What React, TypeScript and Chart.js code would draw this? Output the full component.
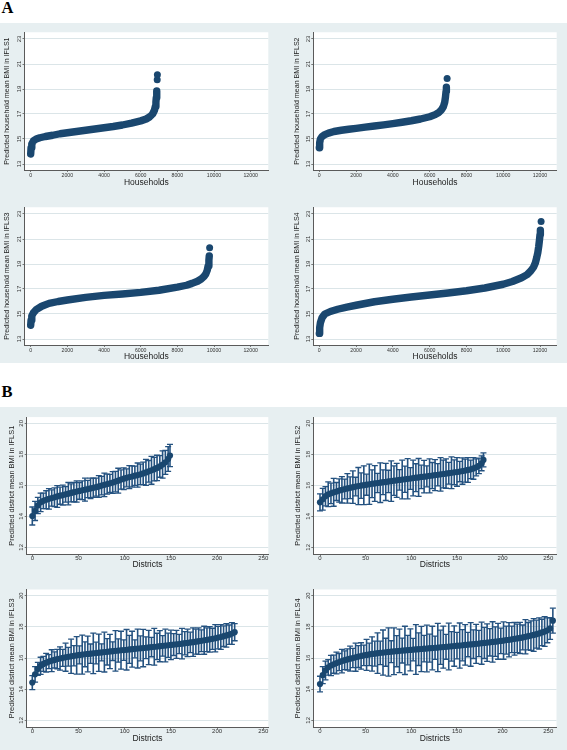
import React, { useEffect, useRef } from "react";
import { Chart, registerables } from "chart.js";

Chart.register(...registerables);

// ---------- colours / fonts ----------
const NAVY = "#1a476f";
const CI_COLOR = "#245280";
const PANEL_BG = "#e7eff1";
const GRID = "#dbe5e8";
const AXIS = "#5a5a5a";
const TEXT = "#222222";
const FONT = "'Liberation Sans', Arial, Helvetica, sans-serif";

// ---------- tick values ----------
const householdTicks = [0, 2000, 4000, 6000, 8000, 10000, 12000];
const householdBmiTicks = [13, 15, 17, 19, 21, 23];
const districtTicks = [0, 50, 100, 150, 200, 250];
const districtBmiTicks = [12, 14, 16, 18, 20];

// ---------- Panel A: households (rank, predicted BMI) ----------
const ifls1HouseholdRank = [0, 20, 60, 150, 300, 500, 800, 1200, 1600, 2000, 2500, 3000, 3500, 4000, 4500, 5000, 5500, 6000, 6300, 6500, 6650, 6750, 6800, 6830, 6850, 6870, 6880];
const ifls1HouseholdBMI = [13.8, 14.3, 14.6, 14.85, 15.0, 15.1, 15.2, 15.3, 15.42, 15.5, 15.6, 15.7, 15.8, 15.9, 16.0, 16.12, 16.27, 16.45, 16.6, 16.78, 17.0, 17.3, 17.6, 17.95, 18.3, 18.6, 18.85];
const ifls1OutlierRank = [6900, 6910];
const ifls1OutlierBMI = [19.75, 20.15];

const ifls2HouseholdRank = [0, 20, 60, 150, 300, 500, 800, 1200, 1600, 2000, 2500, 3000, 3500, 4000, 4500, 5000, 5500, 6000, 6300, 6500, 6650, 6750, 6820, 6860, 6890, 6910];
const ifls2HouseholdBMI = [14.3, 14.7, 15.0, 15.2, 15.35, 15.47, 15.6, 15.7, 15.78, 15.85, 15.95, 16.04, 16.13, 16.23, 16.34, 16.46, 16.6, 16.78, 16.95, 17.12, 17.35, 17.6, 17.95, 18.35, 18.8, 19.15];
const ifls2OutlierRank = [6950];
const ifls2OutlierBMI = [19.85];

const ifls3HouseholdRank = [0, 20, 60, 150, 300, 600, 1000, 1500, 2000, 3000, 4000, 5000, 6000, 7000, 8000, 8500, 8800, 9100, 9300, 9450, 9550, 9630, 9680, 9720, 9740];
const ifls3HouseholdBMI = [14.1, 14.5, 14.85, 15.1, 15.35, 15.62, 15.85, 16.0, 16.12, 16.33, 16.49, 16.6, 16.73, 16.9, 17.15, 17.3, 17.45, 17.62, 17.8, 18.0, 18.2, 18.5, 18.85, 19.3, 19.65];
const ifls3OutlierRank = [9760];
const ifls3OutlierBMI = [20.3];

const ifls4HouseholdRank = [0, 20, 60, 150, 300, 600, 1000, 1500, 2000, 3000, 4000, 5000, 6000, 7000, 8000, 9000, 10000, 10500, 11000, 11300, 11500, 11650, 11750, 11820, 11880, 11930, 11970, 12000, 12020];
const ifls4HouseholdBMI = [13.45, 13.9, 14.3, 14.7, 15.0, 15.2, 15.38, 15.55, 15.7, 15.98, 16.18, 16.36, 16.52, 16.68, 16.86, 17.08, 17.38, 17.6, 17.9, 18.15, 18.45, 18.75, 19.1, 19.5, 19.9, 20.4, 20.9, 21.35, 21.7];
const ifls4OutlierRank = [12060];
const ifls4OutlierBMI = [22.4];

// ---------- Panel B: districts (rank, mean, CI half-width) ----------
const ifls1DistrictRank = [0, 3, 6, 9, 12, 15, 18, 21, 24, 27, 30, 33, 36, 39, 42, 45, 48, 51, 54, 57, 60, 63, 66, 69, 72, 75, 78, 81, 84, 87, 90, 93, 96, 99, 102, 105, 108, 111, 114, 117, 120, 123, 126, 129, 132, 135, 138, 141, 144, 147, 149];
const ifls1DistrictMean = [14.02, 14.35, 14.7, 14.9, 15.0, 15.07, 15.13, 15.18, 15.23, 15.28, 15.33, 15.37, 15.42, 15.46, 15.51, 15.56, 15.6, 15.64, 15.68, 15.72, 15.76, 15.8, 15.84, 15.88, 15.93, 15.98, 16.03, 16.08, 16.13, 16.18, 16.24, 16.3, 16.37, 16.43, 16.48, 16.53, 16.57, 16.62, 16.66, 16.71, 16.77, 16.83, 16.9, 16.97, 17.04, 17.12, 17.22, 17.34, 17.48, 17.7, 17.92];
const ifls1DistrictHalfCI = [0.58, 0.62, 0.52, 0.6, 0.5, 0.58, 0.66, 0.52, 0.6, 0.7, 0.55, 0.64, 0.5, 0.72, 0.58, 0.62, 0.68, 0.54, 0.6, 0.74, 0.56, 0.66, 0.62, 0.58, 0.7, 0.6, 0.76, 0.64, 0.58, 0.7, 0.66, 0.8, 0.62, 0.7, 0.58, 0.74, 0.68, 0.62, 0.78, 0.66, 0.72, 0.84, 0.7, 0.9, 0.76, 0.82, 0.7, 0.88, 0.78, 0.8, 0.72];

const ifls2DistrictRank = [0, 3, 6, 9, 12, 15, 18, 21, 24, 27, 30, 33, 36, 39, 42, 45, 48, 51, 54, 57, 60, 63, 66, 69, 72, 75, 78, 81, 84, 87, 90, 93, 96, 99, 102, 105, 108, 111, 114, 117, 120, 123, 126, 129, 132, 135, 138, 141, 144, 147, 150, 153, 156, 159, 162, 165, 168, 171, 174, 177, 179];
const ifls2DistrictMean = [14.9, 15.1, 15.3, 15.42, 15.48, 15.55, 15.6, 15.66, 15.71, 15.76, 15.8, 15.84, 15.88, 15.92, 15.95, 15.98, 16.01, 16.04, 16.07, 16.1, 16.12, 16.15, 16.17, 16.2, 16.22, 16.25, 16.27, 16.3, 16.32, 16.35, 16.37, 16.39, 16.42, 16.44, 16.47, 16.49, 16.51, 16.54, 16.56, 16.58, 16.61, 16.63, 16.66, 16.68, 16.71, 16.73, 16.76, 16.78, 16.81, 16.84, 16.86, 16.89, 16.92, 16.95, 16.99, 17.03, 17.09, 17.16, 17.26, 17.42, 17.64];
const ifls2DistrictHalfCI = [0.55, 0.7, 0.62, 0.8, 0.66, 0.9, 0.58, 0.75, 0.85, 0.64, 0.95, 0.7, 1.05, 0.6, 1.2, 0.82, 1.25, 0.68, 1.3, 0.9, 1.15, 0.62, 1.28, 0.8, 1.2, 0.72, 1.3, 0.95, 1.1, 0.66, 1.25, 0.85, 1.3, 0.7, 1.15, 0.9, 1.22, 0.76, 1.05, 0.68, 1.1, 0.84, 1.0, 0.72, 1.08, 0.9, 0.95, 0.7, 1.02, 0.8, 0.92, 0.66, 0.85, 0.74, 0.8, 0.6, 0.7, 0.55, 0.5, 0.48, 0.45];

const ifls3DistrictRank = [0, 3, 6, 9, 12, 15, 18, 21, 24, 27, 30, 33, 36, 39, 42, 45, 48, 51, 54, 57, 60, 63, 66, 69, 72, 75, 78, 81, 84, 87, 90, 93, 96, 99, 102, 105, 108, 111, 114, 117, 120, 123, 126, 129, 132, 135, 138, 141, 144, 147, 150, 153, 156, 159, 162, 165, 168, 171, 174, 177, 180, 183, 186, 189, 192, 195, 198, 201, 204, 207, 210, 213, 216, 219];
const ifls3DistrictMean = [14.42, 14.95, 15.3, 15.5, 15.62, 15.7, 15.77, 15.83, 15.88, 15.93, 15.97, 16.01, 16.05, 16.08, 16.11, 16.14, 16.17, 16.2, 16.22, 16.24, 16.26, 16.28, 16.3, 16.32, 16.34, 16.36, 16.38, 16.4, 16.42, 16.44, 16.46, 16.48, 16.5, 16.51, 16.53, 16.55, 16.57, 16.59, 16.61, 16.62, 16.64, 16.66, 16.68, 16.7, 16.72, 16.74, 16.76, 16.78, 16.8, 16.82, 16.84, 16.86, 16.88, 16.9, 16.92, 16.95, 16.97, 17.0, 17.02, 17.05, 17.08, 17.11, 17.14, 17.17, 17.2, 17.23, 17.27, 17.31, 17.35, 17.4, 17.45, 17.5, 17.57, 17.66];
const ifls3DistrictHalfCI = [0.45, 0.5, 0.42, 0.55, 0.48, 0.6, 0.45, 0.7, 0.52, 0.62, 0.75, 0.55, 0.9, 0.6, 1.1, 0.65, 1.2, 0.58, 1.25, 0.8, 1.15, 0.62, 1.3, 0.7, 1.2, 0.55, 1.28, 0.85, 1.1, 0.6, 1.3, 0.75, 1.22, 0.66, 1.3, 0.9, 1.15, 0.58, 1.25, 0.8, 1.2, 0.7, 1.1, 0.62, 1.18, 0.85, 1.0, 0.66, 1.05, 0.78, 0.95, 0.7, 0.9, 0.62, 0.98, 0.75, 0.88, 0.66, 0.92, 0.8, 0.85, 0.7, 0.9, 0.76, 0.82, 0.68, 0.88, 0.72, 0.8, 0.66, 0.75, 0.62, 0.7, 0.55];

const ifls4DistrictRank = [0, 3, 6, 9, 12, 15, 18, 21, 24, 27, 30, 33, 36, 39, 42, 45, 48, 51, 54, 57, 60, 63, 66, 69, 72, 75, 78, 81, 84, 87, 90, 93, 96, 99, 102, 105, 108, 111, 114, 117, 120, 123, 126, 129, 132, 135, 138, 141, 144, 147, 150, 153, 156, 159, 162, 165, 168, 171, 174, 177, 180, 183, 186, 189, 192, 195, 198, 201, 204, 207, 210, 213, 216, 219, 222, 225, 228, 231, 234, 237, 240, 243, 246, 249, 252, 255];
const ifls4DistrictMean = [14.33, 14.9, 15.2, 15.4, 15.52, 15.6, 15.68, 15.74, 15.8, 15.86, 15.91, 15.96, 16.0, 16.05, 16.09, 16.13, 16.17, 16.2, 16.23, 16.26, 16.28, 16.31, 16.33, 16.35, 16.37, 16.39, 16.41, 16.43, 16.44, 16.46, 16.48, 16.49, 16.51, 16.52, 16.54, 16.55, 16.57, 16.58, 16.6, 16.61, 16.63, 16.64, 16.66, 16.67, 16.69, 16.7, 16.72, 16.74, 16.75, 16.77, 16.79, 16.8, 16.82, 16.84, 16.86, 16.87, 16.89, 16.91, 16.93, 16.95, 16.97, 16.99, 17.01, 17.03, 17.05, 17.07, 17.1, 17.12, 17.15, 17.17, 17.2, 17.23, 17.26, 17.29, 17.32, 17.36, 17.4, 17.44, 17.48, 17.53, 17.58, 17.64, 17.7, 17.78, 17.9, 18.4];
const ifls4DistrictHalfCI = [0.5, 0.55, 0.6, 0.5, 0.65, 0.58, 0.7, 0.55, 0.75, 0.6, 0.68, 0.8, 0.62, 0.9, 0.7, 0.85, 0.66, 1.0, 0.72, 1.1, 0.8, 1.3, 0.75, 1.45, 0.9, 1.55, 0.7, 1.5, 1.0, 1.4, 0.8, 1.55, 0.95, 1.35, 0.72, 1.6, 1.05, 1.45, 0.85, 1.5, 0.9, 1.4, 0.75, 1.55, 1.1, 1.35, 0.8, 1.5, 0.95, 1.3, 0.85, 1.45, 1.0, 1.3, 0.78, 1.4, 0.92, 1.25, 0.84, 1.35, 1.0, 1.2, 0.88, 1.3, 0.95, 1.15, 0.82, 1.2, 0.9, 1.1, 0.85, 1.05, 0.92, 1.0, 0.8, 1.1, 0.88, 0.95, 1.05, 0.9, 1.0, 0.85, 0.95, 0.8, 0.7, 0.8];

// ---------- dataset builders ----------
function householdDatasets(rank: number[], bmi: number[], oRank: number[], oBmi: number[]) {
  const n = Math.min(rank.length, bmi.length);
  const curve = [];
  for (let i = 0; i < n; i++) curve.push({ x: rank[i], y: bmi[i] });
  const outl = oRank.map((x, i) => ({ x, y: oBmi[i] }));
  return [
    {
      type: "scatter",
      data: outl,
      showLine: false,
      pointRadius: 3.5,
      pointBackgroundColor: NAVY,
      pointBorderWidth: 0,
    },
    {
      type: "scatter",
      data: curve,
      showLine: true,
      borderColor: NAVY,
      borderWidth: 7.4,
      borderJoinStyle: "round",
      borderCapStyle: "round",
      pointRadius: 0,
      tension: 0,
      fill: false,
    },
  ];
}

function districtDatasets(rank: number[], mean: number[], half: number[]) {
  const n = Math.min(rank.length, mean.length, half.length);
  const means = [];
  const ci = [];
  for (let i = 0; i < n; i++) {
    means.push({ x: rank[i], y: mean[i] });
    ci.push({ x: rank[i], y: mean[i] - half[i] });
    ci.push({ x: rank[i], y: mean[i] + half[i] });
    ci.push({ x: rank[i], y: null });
  }
  return [
    {
      type: "scatter",
      data: means,
      showLine: false,
      pointRadius: 3.1,
      pointBackgroundColor: NAVY,
      pointBorderWidth: 0,
    },
    {
      type: "scatter",
      data: ci,
      showLine: true,
      spanGaps: false,
      borderColor: CI_COLOR,
      borderWidth: 1.6,
      pointStyle: "line",
      pointRadius: 3,
      pointBorderColor: CI_COLOR,
      pointBorderWidth: 1.3,
      fill: false,
    },
  ];
}

// ---------- layout specs ----------
type Box = { left: number; top: number; width: number; height: number };
type Area = { L: number; T: number; R: number; B: number };
interface Spec {
  id: string;
  canvas: Box;
  area: Area;
  xMin: number; xMax: number; yMin: number; yMax: number;
  xTicks: number[]; yTicks: number[];
  xTitle: string; yTitle: string;
  yTitleX: number; xTitleY: number;
  xTickFont: number; yTitleFont: number; xTickPad: number;
  datasets: any[];
}

const specs: Spec[] = [
  {
    id: "a1",
    canvas: { left: 0, top: 24, width: 281, height: 165 },
    area: { L: 24.5, T: 32.25, R: 268.3, B: 170 },
    xMin: -338, xMax: 12960, yMin: 12.52, yMax: 23.54,
    xTicks: householdTicks, yTicks: householdBmiTicks,
    xTitle: "Households", yTitle: "Predicted household mean BMI in IFLS1",
    yTitleX: 7.3, xTitleY: 182.7, xTickFont: 5.2, yTitleFont: 7.1, xTickPad: 0,
    datasets: householdDatasets(ifls1HouseholdRank, ifls1HouseholdBMI, ifls1OutlierRank, ifls1OutlierBMI),
  },
  {
    id: "a2",
    canvas: { left: 284, top: 24, width: 283, height: 165 },
    area: { L: 313.3, T: 32.25, R: 556.7, B: 170 },
    xMin: -326, xMax: 12908, yMin: 12.52, yMax: 23.54,
    xTicks: householdTicks, yTicks: householdBmiTicks,
    xTitle: "Households", yTitle: "Predicted household mean BMI in IFLS2",
    yTitleX: 296.7, xTitleY: 182.7, xTickFont: 5.2, yTitleFont: 7.1, xTickPad: 0,
    datasets: householdDatasets(ifls2HouseholdRank, ifls2HouseholdBMI, ifls2OutlierRank, ifls2OutlierBMI),
  },
  {
    id: "a3",
    canvas: { left: 0, top: 199, width: 281, height: 166 },
    area: { L: 24.5, T: 207.25, R: 268.3, B: 345 },
    xMin: -338, xMax: 12960, yMin: 12.52, yMax: 23.54,
    xTicks: householdTicks, yTicks: householdBmiTicks,
    xTitle: "Households", yTitle: "Predicted household mean BMI in IFLS3",
    yTitleX: 7.3, xTitleY: 357, xTickFont: 5.2, yTitleFont: 7.1, xTickPad: 0,
    datasets: householdDatasets(ifls3HouseholdRank, ifls3HouseholdBMI, ifls3OutlierRank, ifls3OutlierBMI),
  },
  {
    id: "a4",
    canvas: { left: 284, top: 199, width: 283, height: 166 },
    area: { L: 313.3, T: 207.25, R: 556.7, B: 345 },
    xMin: -326, xMax: 12908, yMin: 12.52, yMax: 23.54,
    xTicks: householdTicks, yTicks: householdBmiTicks,
    xTitle: "Households", yTitle: "Predicted household mean BMI in IFLS4",
    yTitleX: 296.7, xTitleY: 357, xTickFont: 5.2, yTitleFont: 7.1, xTickPad: 0,
    datasets: householdDatasets(ifls4HouseholdRank, ifls4HouseholdBMI, ifls4OutlierRank, ifls4OutlierBMI),
  },
  {
    id: "b1",
    canvas: { left: 0, top: 408, width: 281, height: 165 },
    area: { L: 26.7, T: 417.1, R: 268.3, B: 554.3 },
    xMin: -6.06, xMax: 255.4, yMin: 11.55, yMax: 20.4,
    xTicks: districtTicks, yTicks: districtBmiTicks,
    xTitle: "Districts", yTitle: "Predicted district mean BMI in IFLS1",
    yTitleX: 11.7, xTitleY: 565, xTickFont: 6, yTitleFont: 7.4, xTickPad: -1.9,
    datasets: districtDatasets(ifls1DistrictRank, ifls1DistrictMean, ifls1DistrictHalfCI),
  },
  {
    id: "b2",
    canvas: { left: 284, top: 408, width: 283, height: 165 },
    area: { L: 313.3, T: 417.1, R: 556.5, B: 554.3 },
    xMin: -7.34, xMax: 259, yMin: 11.55, yMax: 20.4,
    xTicks: districtTicks, yTicks: districtBmiTicks,
    xTitle: "Districts", yTitle: "Predicted district mean BMI in IFLS2",
    yTitleX: 298.3, xTitleY: 565, xTickFont: 6, yTitleFont: 7.4, xTickPad: -1.9,
    datasets: districtDatasets(ifls2DistrictRank, ifls2DistrictMean, ifls2DistrictHalfCI),
  },
  {
    id: "b3",
    canvas: { left: 0, top: 581, width: 281, height: 168 },
    area: { L: 26.7, T: 589.5, R: 268.3, B: 727.3 },
    xMin: -6.06, xMax: 255.4, yMin: 11.55, yMax: 20.4,
    xTicks: districtTicks, yTicks: districtBmiTicks,
    xTitle: "Districts", yTitle: "Predicted district mean BMI in IFLS3",
    yTitleX: 11.7, xTitleY: 738.5, xTickFont: 6, yTitleFont: 7.4, xTickPad: -1.9,
    datasets: districtDatasets(ifls3DistrictRank, ifls3DistrictMean, ifls3DistrictHalfCI),
  },
  {
    id: "b4",
    canvas: { left: 284, top: 581, width: 283, height: 168 },
    area: { L: 313.3, T: 589.5, R: 556.5, B: 727.3 },
    xMin: -7.34, xMax: 259, yMin: 11.55, yMax: 20.4,
    xTicks: districtTicks, yTicks: districtBmiTicks,
    xTitle: "Districts", yTitle: "Predicted district mean BMI in IFLS4",
    yTitleX: 298.3, xTitleY: 738.5, xTickFont: 6, yTitleFont: 7.4, xTickPad: -1.9,
    datasets: districtDatasets(ifls4DistrictRank, ifls4DistrictMean, ifls4DistrictHalfCI),
  },
];

// ---------- chart config ----------
const plotBackground = {
  id: "plotBackground",
  beforeDraw(chart: any) {
    const { ctx, chartArea: a } = chart;
    if (!a) return;
    ctx.save();
    ctx.fillStyle = "#ffffff";
    ctx.fillRect(a.left, a.top, a.right - a.left, a.bottom - a.top);
    ctx.restore();
  },
};

function buildConfig(s: Spec): any {
  const padTop = s.area.T - s.canvas.top;
  const padRight = s.canvas.left + s.canvas.width - s.area.R;
  const yAxisWidth = s.area.L - s.canvas.left;
  const canvasBottom = s.canvas.top + s.canvas.height;
  const xAxisHeight = canvasBottom - s.area.B;
  const xTitleSize = 8.5;
  const xTitlePadBottom = canvasBottom - s.xTitleY - (xTitleSize * 1.2) / 2;
  const yTitlePadTop = s.yTitleX - s.canvas.left - (s.yTitleFont * 1.2) / 2;

  return {
    type: "scatter",
    data: { datasets: s.datasets },
    options: {
      responsive: false,
      animation: false,
      events: [],
      layout: { padding: { left: 0, top: padTop, right: padRight, bottom: 0 } },
      plugins: {
        legend: { display: false },
        tooltip: { enabled: false },
        title: { display: false },
      },
      scales: {
        x: {
          type: "linear",
          position: "bottom",
          min: s.xMin,
          max: s.xMax,
          afterBuildTicks: (sc: any) => {
            sc.ticks = s.xTicks.map((v) => ({ value: v }));
          },
          afterFit: (sc: any) => {
            sc.height = xAxisHeight;
          },
          grid: {
            display: true,
            drawOnChartArea: false,
            drawTicks: true,
            tickLength: 2,
            tickColor: AXIS,
            tickWidth: 0.8,
          },
          border: { display: true, color: AXIS, width: 1 },
          ticks: {
            color: "#333333",
            font: { family: FONT, size: s.xTickFont },
            padding: s.xTickPad,
            minRotation: 0,
            maxRotation: 0,
            autoSkip: false,
            callback: (v: any) => String(v),
          },
          title: {
            display: true,
            text: s.xTitle,
            color: TEXT,
            font: { family: FONT, size: xTitleSize },
            padding: { top: 0, bottom: xTitlePadBottom },
          },
        },
        y: {
          type: "linear",
          position: "left",
          min: s.yMin,
          max: s.yMax,
          afterBuildTicks: (sc: any) => {
            sc.ticks = s.yTicks.map((v) => ({ value: v }));
          },
          afterFit: (sc: any) => {
            sc.width = yAxisWidth;
          },
          grid: {
            display: true,
            drawOnChartArea: true,
            color: GRID,
            lineWidth: 1,
            drawTicks: true,
            tickLength: 2,
            tickColor: AXIS,
            tickWidth: 0.8,
          },
          border: { display: true, color: AXIS, width: 1 },
          ticks: {
            color: "#333333",
            font: { family: FONT, size: 6 },
            padding: 0,
            minRotation: 90,
            maxRotation: 90,
            crossAlign: "center",
            autoSkip: false,
            callback: (v: any) => String(v),
          },
          title: {
            display: true,
            text: s.yTitle,
            color: TEXT,
            font: { family: FONT, size: s.yTitleFont },
            padding: { top: yTitlePadTop, bottom: 0 },
          },
        },
      },
    },
    plugins: [plotBackground],
  };
}

function PanelChart({ spec }: { spec: Spec }) {
  const ref = useRef<HTMLCanvasElement | null>(null);
  useEffect(() => {
    if (!ref.current) return;
    const chart = new Chart(ref.current, buildConfig(spec));
    return () => chart.destroy();
  }, [spec]);
  return (
    <canvas
      ref={ref}
      width={spec.canvas.width}
      height={spec.canvas.height}
      style={{
        position: "absolute",
        left: spec.canvas.left,
        top: spec.canvas.top,
        width: spec.canvas.width,
        height: spec.canvas.height,
      }}
    />
  );
}

const panelLabelStyle: React.CSSProperties = {
  position: "absolute",
  font: "bold 16.5px 'Liberation Serif', 'Times New Roman', serif",
  lineHeight: "16.5px",
  color: "#000",
};

export default function App() {
  return (
    <div
      style={{
        position: "absolute",
        left: 0,
        top: 0,
        width: 567,
        height: 750,
        background: "#ffffff",
        overflow: "hidden",
      }}
    >
      <div style={{ position: "absolute", left: 0, top: 23, width: 567, height: 340, background: PANEL_BG }} />
      <div style={{ position: "absolute", left: 0, top: 407, width: 567, height: 343, background: PANEL_BG }} />
      <div style={{ ...panelLabelStyle, left: 1.5, top: 0.2 }}>A</div>
      <div style={{ ...panelLabelStyle, left: 1.4, top: 383.9 }}>B</div>
      {specs.map((s) => (
        <PanelChart key={s.id} spec={s} />
      ))}
    </div>
  );
}
